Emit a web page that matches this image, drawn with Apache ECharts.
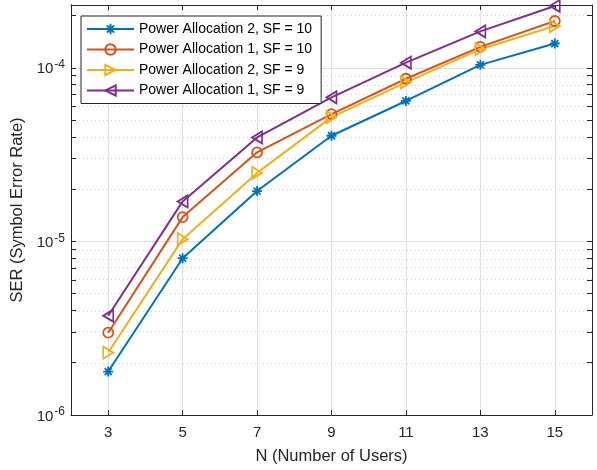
<!DOCTYPE html>
<html>
<head>
<meta charset="utf-8">
<script src="https://cdn.jsdelivr.net/npm/echarts@6/dist/echarts.min.js"></script>
<style>html,body{margin:0;padding:0;background:#fff}#c{width:597px;height:470px}</style>
</head>
<body>
<div id="c"></div>
<script>
const users = [3, 5, 7, 9, 11, 13, 15];
const pa2sf10 = [1.78e-6, 8.0e-6, 1.95e-5, 4.06e-5, 6.44e-5, 1.04e-4, 1.38e-4];
const pa1sf10 = [2.98e-6, 1.38e-5, 3.26e-5, 5.41e-5, 8.65e-5, 1.32e-4, 1.86e-4];
const pa2sf9  = [2.29e-6, 1.03e-5, 2.48e-5, 5.20e-5, 8.25e-5, 1.28e-4, 1.74e-4];
const pa1sf9  = [3.73e-6, 1.70e-5, 3.97e-5, 6.76e-5, 1.07e-4, 1.62e-4, 2.27e-4];
const seriesNames = ['Power Allocation 2, SF = 10', 'Power Allocation 1, SF = 10', 'Power Allocation 2, SF = 9', 'Power Allocation 1, SF = 9'];
const xTicks = [3, 5, 7, 9, 11, 13, 15];
const yMajor = [1e-6, 1e-5, 1e-4];
const yMinor = [2e-6,3e-6,4e-6,5e-6,6e-6,7e-6,8e-6,9e-6,2e-5,3e-5,4e-5,5e-5,6e-5,7e-5,8e-5,9e-5,2e-4];
const yMin = 1e-6, yMax = 2.3e-4;

const colors = ['#0072BD', '#D95319', '#EDB120', '#7E2F8E'];
const symbols = [
  'path://M5 0L5 10M0 5L10 5M1.5 1.5L8.5 8.5M8.5 1.5L1.5 8.5',
  'circle',
  'path://M0 0L10 5L0 10Z',
  'path://M10 0L0 5L10 10Z'
];
const symSizes = [10, 10, [10, 12], [10, 12]];
const FONT = '"Liberation Sans", Arial, Helvetica, sans-serif';
const AX = '#262626';
const lg = v => Math.log10(v);
const allYLog = yMajor.concat(yMinor).sort((a,b)=>a-b).map(lg);

const seriesData = [pa2sf10, pa1sf10, pa2sf9, pa1sf9];
const zip = arr => users.map((u, i) => [u, arr[i]]);

const gridLines = [];
xTicks.forEach(v => gridLines.push({xAxis: v, lineStyle: {color: '#e0e0e0', width: 1, type: 'solid'}}));
yMajor.slice(1).forEach(v => gridLines.push({yAxis: lg(v), lineStyle: {color: '#e0e0e0', width: 1, type: 'solid'}}));
yMinor.forEach(v => gridLines.push({yAxis: lg(v), lineStyle: {color: '#d2d2d2', width: 1, type: [1, 3]}}));

const series = [{
  type: 'line', z: 0, silent: true, symbol: 'none', xAxisIndex: 0, yAxisIndex: 1,
  data: [[3, -5]], lineStyle: {width: 0},
  markLine: {z: 0, symbol: 'none', silent: true, animation: false, label: {show: false}, data: gridLines}
}];
seriesData.forEach((d, i) => {
  series.push({
    name: seriesNames[i], type: 'line', z: 5, xAxisIndex: 0, yAxisIndex: 0, data: zip(d),
    symbol: symbols[i], symbolSize: symSizes[i],
    lineStyle: {color: colors[i], width: 2},
    itemStyle: {color: i === 0 ? colors[i] : 'rgba(255,255,255,0)', borderColor: colors[i], borderWidth: 1.8},
    emphasis: {disabled: true}
  });
});

const xCommon = {
  type: 'value', min: 2, max: 16, interval: 1,
  axisLine: {show: true, onZero: false, lineStyle: {color: AX, width: 1}},
  axisTick: {show: true, inside: true, length: 5, customValues: xTicks, lineStyle: {color: AX, width: 1}},
  splitLine: {show: false}
};
const yLogCommon = {
  type: 'value', min: lg(yMin), max: lg(yMax), interval: 1,
  axisLine: {show: true, onZero: false, lineStyle: {color: AX, width: 1}},
  axisTick: {show: true, inside: true, length: 5, customValues: allYLog, lineStyle: {color: AX, width: 1}},
  axisLabel: {show: false},
  splitLine: {show: false}
};

const chart = echarts.init(document.getElementById('c'), null, {renderer: 'canvas'});
chart.setOption({
  animation: false,
  backgroundColor: '#fff',
  textStyle: {fontFamily: FONT},
  grid: {left: 71, right: 5, top: 5, bottom: 53, containLabel: false},
  legend: {
    z: 50, zlevel: 0,
    data: seriesNames, orient: 'vertical', left: 81, top: 16,
    backgroundColor: '#fff', borderColor: AX, borderWidth: 1,
    padding: [6, 9, 6, 5], itemGap: 6.5, itemWidth: 47, itemHeight: 13,
    textStyle: {fontSize: 14, color: '#000', fontFamily: FONT},
    selectedMode: false
  },
  xAxis: [
    Object.assign({}, xCommon, {
      position: 'bottom',
      axisLabel: {show: true, customValues: xTicks, fontSize: 15, color: AX, margin: 10, fontFamily: FONT},
      name: 'N (Number of Users)', nameLocation: 'middle', nameGap: 33,
      nameTextStyle: {fontSize: 16.5, color: AX, fontFamily: FONT}
    }),
    Object.assign({}, xCommon, {position: 'top', axisLabel: {show: false}})
  ],
  yAxis: [
    {
      type: 'log', logBase: 10, min: yMin, max: yMax, position: 'left',
      axisLine: {show: true, onZero: false, lineStyle: {color: AX, width: 1}},
      axisTick: {show: false}, splitLine: {show: false}, minorTick: {show: false},
      axisLabel: {
        show: true, customValues: yMajor, margin: 6, color: AX, fontFamily: FONT,
        formatter: v => '{b|10}{s|' + Math.round(Math.log10(v)) + '}',
        rich: {
          b: {fontSize: 15, lineHeight: 18, verticalAlign: 'bottom', color: AX, fontFamily: FONT},
          s: {fontSize: 12, lineHeight: 18, verticalAlign: 'top', color: AX, fontFamily: FONT, padding: [0, 0, 0, 1]}
        }
      },
      name: 'SER (Symbol Error Rate)', nameLocation: 'middle', nameGap: 42,
      nameTextStyle: {fontSize: 16.5, color: AX, fontFamily: FONT}
    },
    Object.assign({}, yLogCommon, {position: 'left'}),
    Object.assign({}, yLogCommon, {position: 'right'})
  ],
  series: series
});
</script>
</body>
</html>
